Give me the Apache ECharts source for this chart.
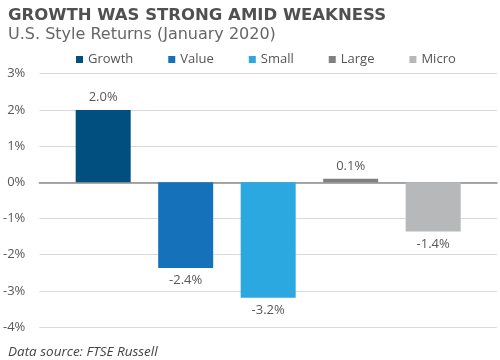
<!DOCTYPE html>
<html><head><meta charset="utf-8">
<script src="https://cdn.jsdelivr.net/npm/echarts@6/dist/echarts.min.js"></script>
<style>html,body{margin:0;padding:0;background:#fff}#c{width:500px;height:360px}</style>
</head><body><div id="c"></div>
<script>
var seriesNames = ['Growth', 'Value', 'Small', 'Large', 'Micro'];
var seriesValues = [2.0, -2.37, -3.19, 0.1, -1.36];
var seriesColors = ['#004f7f', '#1572ba', '#2ca8e0', '#808080', '#b7b8ba'];
var yTicks = [-4, -3, -2, -1, 0, 1, 2, 3];

var chart = echarts.init(document.getElementById('c'));
var series = seriesNames.map(function (n, i) {
  var v = seriesValues[i];
  return {
    name: n, type: 'bar', data: [v], barWidth: 55, barGap: '50%',
    itemStyle: { color: seriesColors[i] },
    label: {
      show: true, position: v >= 0 ? 'top' : 'bottom', distance: 6,
      color: '#595959', fontSize: 13, fontFamily: 'Open Sans',
      formatter: function (p) { return p.value.toFixed(1) + '%'; }
    }
  };
});
chart.setOption({
  animation: false,
  title: [{
    text: 'GROWTH WAS STRONG AMID WEAKNESS', left: 3, top: 2,
    textStyle: { fontFamily: 'DejaVu Sans', fontWeight: 'bold', fontSize: 16.5, color: '#505050' }
  }, {
    text: 'U.S. Style Returns (January 2020)', left: 3, top: 22,
    textStyle: { fontFamily: 'DejaVu Sans', fontWeight: 'normal', fontSize: 16, color: '#666666' }
  }, {
    text: 'Data source: FTSE Russell', left: 3, top: 340,
    textStyle: { fontFamily: 'Open Sans', fontStyle: 'italic', fontWeight: 'normal', fontSize: 13.5, color: '#444444' }
  }],
  legend: {
    left: 76, top: 53, padding: 0, icon: 'rect', itemWidth: 7, itemHeight: 7, itemGap: 35,
    textStyle: { fontFamily: 'Open Sans', fontSize: 13, color: '#555555' },
    data: seriesNames
  },
  grid: { left: 36, right: 3, top: 73.7, bottom: 33, containLabel: false },
  xAxis: {
    type: 'category', data: [''],
    axisLine: { show: true, onZero: true, lineStyle: { color: '#8c8c8c', width: 1.5 } },
    axisTick: { show: false }, axisLabel: { show: false }
  },
  yAxis: {
    type: 'value', min: yTicks[0], max: yTicks[yTicks.length - 1], interval: 1,
    axisLine: { show: false }, axisTick: { show: false },
    splitLine: { lineStyle: { color: '#d9d9d9', width: 1 } },
    axisLabel: { color: '#595959', fontSize: 13, fontFamily: 'Open Sans', margin: 14,
      formatter: function (v) { return v + '%'; } }
  },
  series: series
});
</script></body></html>
